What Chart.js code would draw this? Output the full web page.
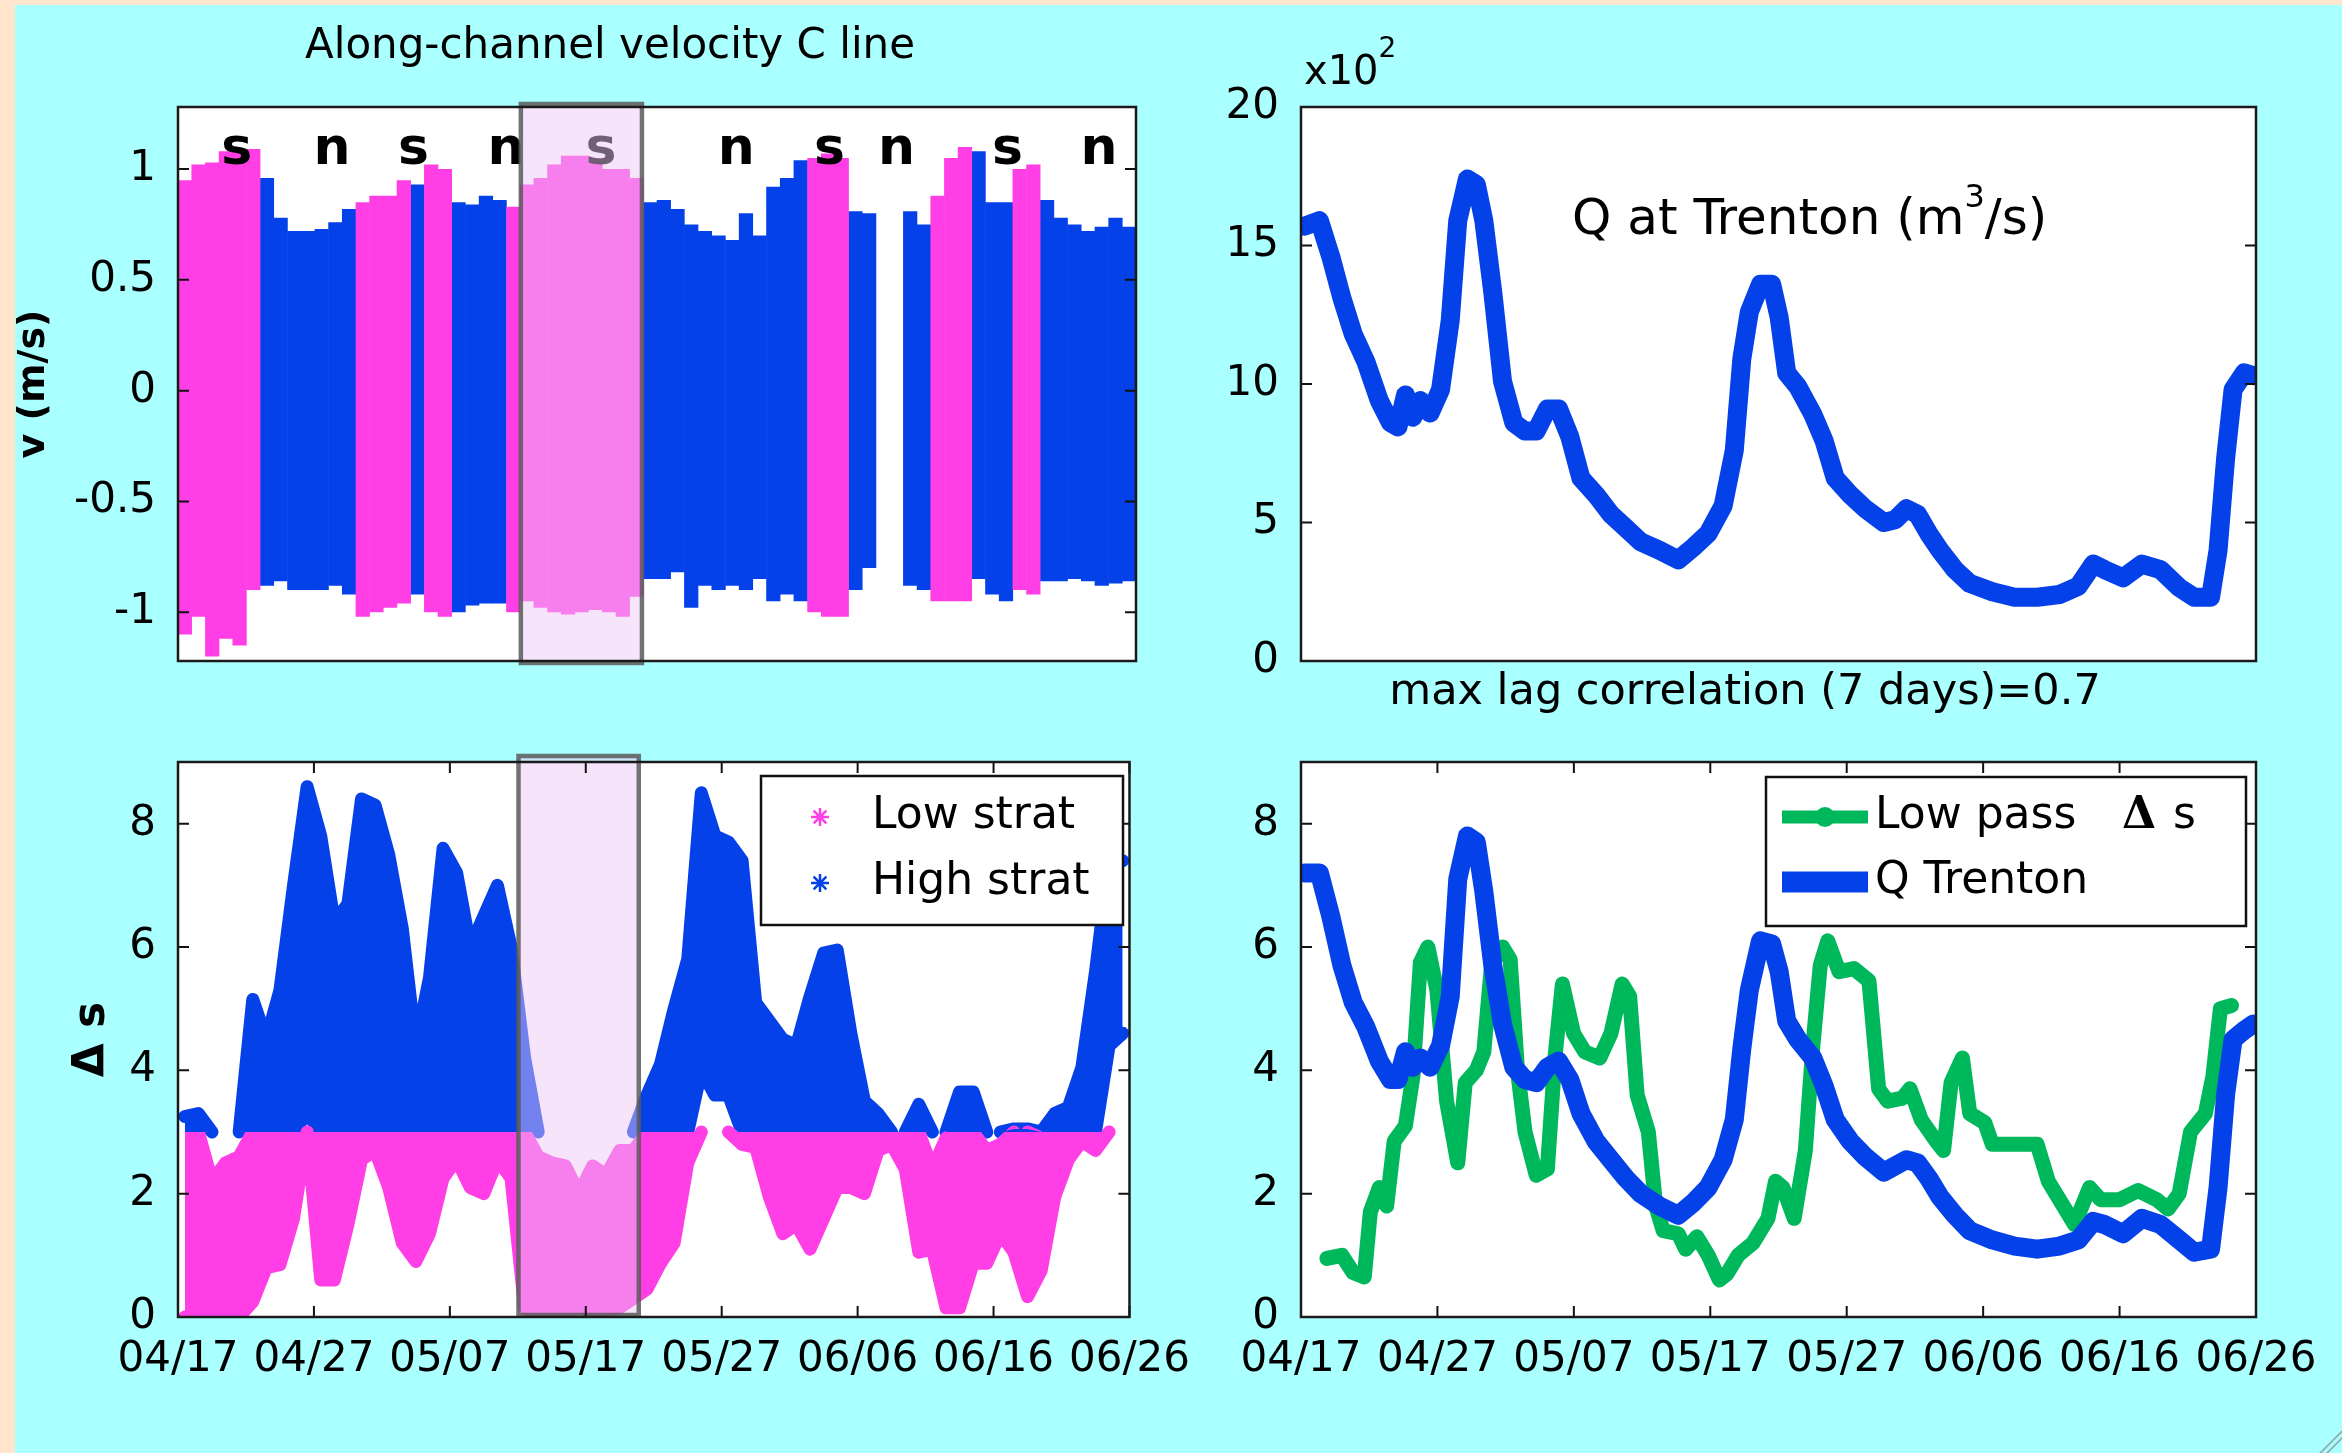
<!DOCTYPE html>
<html>
<head>
<meta charset="utf-8">
<script src="https://cdn.jsdelivr.net/npm/chart.js@4.4.1/dist/chart.umd.min.js"></script>
<style>
  html, body { margin: 0; padding: 0; background: #ffe6cc; }
  body { width: 2342px; height: 1453px; position: relative; overflow: hidden; }
  #page { position: absolute; left: 15px; top: 5px; width: 2327px; height: 1448px; background: #aaffff; }
  canvas { position: absolute; }
  #curl { position: absolute; right: 0; bottom: 0; width: 30px; height: 26px;
          background: linear-gradient(135deg, transparent 58%, #8a9a9a 61%, transparent 65%, transparent 70%, #8a9a9a 73%, transparent 77%); }
</style>
</head>
<body>
<div id="page"></div>
<canvas id="tl" width="1200" height="720" style="left:0;top:0"></canvas>
<canvas id="bl" width="1200" height="733" style="left:0;top:720px"></canvas>
<canvas id="tr" width="1172" height="720" style="left:1170px;top:0"></canvas>
<canvas id="br" width="1172" height="733" style="left:1170px;top:720px"></canvas>
<div id="curl"></div>
<script>
// x values are days counted from 04/17
const tickDays = [0, 10, 20, 30, 40, 50, 60, 70];
const dateLabels = ['04/17', '04/27', '05/07', '05/17', '05/27', '06/06', '06/16', '06/26'];
const shadeDays = [25.05, 33.9];

// top left: daily envelope of along-channel velocity (m/s), s = low strat, n = high strat
const velClass = 'ssssssnnnnnnnssssnssnnnnssssssssssnnnnnnnnnnnnsssnn--nnsssnnnssnnnnnnn'.split('');
const velHi = [0.95, 1.02, 1.03, 1.08, 1.09, 1.09, 0.96, 0.78, 0.72, 0.72,
               0.73, 0.76, 0.82, 0.85, 0.88, 0.88, 0.95, 0.93, 1.02, 1.0,
               0.85, 0.84, 0.88, 0.86, 0.83, 0.93, 0.96, 1.02, 1.06, 1.06,
               1.05, 1.0, 1.0, 0.96, 0.85, 0.86, 0.82, 0.75, 0.72, 0.7,
               0.68, 0.8, 0.7, 0.92, 0.96, 1.04, 1.05, 1.07, 1.05, 0.81,
               0.8, null, null, 0.81, 0.75, 0.88, 1.05, 1.1, 1.08, 0.85,
               0.85, 1.0, 1.02, 0.86, 0.78, 0.75, 0.72, 0.74, 0.78, 0.74];
const velLo = [-1.1, -1.02, -1.2, -1.12, -1.15, -0.9, -0.88, -0.86, -0.9, -0.9,
               -0.9, -0.88, -0.92, -1.02, -1.0, -0.98, -0.96, -0.92, -1.0, -1.02,
               -1.0, -0.97, -0.96, -0.96, -1.0, -0.95, -0.98, -1.0, -1.01, -1.0,
               -0.99, -1.0, -1.02, -0.93, -0.85, -0.85, -0.82, -0.98, -0.88, -0.9,
               -0.88, -0.9, -0.85, -0.95, -0.92, -0.95, -1.0, -1.02, -1.02, -0.9,
               -0.8, null, null, -0.88, -0.9, -0.95, -0.95, -0.95, -0.85, -0.92,
               -0.95, -0.9, -0.92, -0.86, -0.86, -0.85, -0.86, -0.88, -0.87, -0.86];
const velTicks = [-1, -0.5, 0, 0.5, 1];
const springNeap = ['s', 'n', 's', 'n', 's', 'n', 's', 'n', 's', 'n'];
const springNeapDays = [4.3, 11.26, 17.2, 23.96, 30.9, 40.8, 47.6, 52.5, 60.6, 67.3];

// bottom left: daily envelope of delta s
const stratSplit = 3;
const dsHi = [3.25, 3.3, 2.2, 2.5, 2.6, 5.15, 4.5, 5.3, 7.0, 8.6,
              7.8, 6.4, 6.7, 8.4, 8.3, 7.5, 6.3, 4.4, 5.5, 7.6,
              7.2, 6.0, 6.5, 7.0, 6.0, 4.2, 2.6, 2.5, 2.45, 2.0,
              2.45, 2.3, 2.7, 2.7, 3.6, 4.1, 5.0, 5.8, 8.5, 7.8,
              7.7, 7.4, 5.1, 4.8, 4.5, 4.4, 5.2, 5.9, 5.95, 4.6,
              3.5, 3.3, 3.0, 3.0, 3.45, 2.4, 2.9, 3.65, 3.65, 2.7,
              2.8, 3.05, 3.05, 2.9, 3.3, 3.4, 4.05, 5.6, 7.4, 7.4];
const dsLo = [0, 0, 0, 0, 0, 0.25, 0.8, 0.85, 1.6, 3.3,
              0.6, 0.6, 1.5, 2.55, 2.7, 2.1, 1.2, 0.9, 1.35, 2.25,
              2.55, 2.1, 2.0, 2.55, 2.25, 0.15, 0, 0.1, 0, 0.2,
              0, 0.1, 0.15, 0.3, 0.45, 0.87, 1.2, 2.5, 4.0, 3.6,
              3.6, 2.8, 2.75, 1.95, 1.35, 1.5, 1.1, 1.6, 2.1, 2.1,
              2.0, 2.7, 2.8, 2.4, 1.05, 1.1, 0.15, 0.15, 0.87, 0.87,
              1.35, 1.05, 0.33, 0.75, 1.95, 2.55, 2.85, 2.7, 4.4, 4.6];
const dsTicks = [0, 2, 4, 6, 8];

// right panels: river discharge at Trenton
const qDay = [0.26, 1.35, 2.18, 3.0, 3.83, 4.76, 5.74, 6.56, 7.11, 7.66,
              8.2, 8.75, 9.46, 10.23, 10.94, 11.49, 12.2, 12.85, 13.4, 14.06,
              14.77, 15.6, 16.42, 17.24, 18.06, 18.88, 19.7, 20.52, 21.62, 22.71,
              23.81, 24.9, 26.27, 27.65, 28.74, 29.84, 30.94, 31.76, 32.31, 32.86,
              33.68, 34.5, 35.05, 35.6, 36.42, 37.52, 38.34, 39.16, 40.26, 41.35,
              42.72, 43.55, 44.37, 45.19, 46.01, 46.83, 47.93, 49.02, 50.67, 52.31,
              53.96, 55.6, 56.97, 58.07, 58.89, 60.26, 61.63, 63.0, 64.38, 65.47,
              66.67, 67.22, 67.77, 68.32, 69.14, 69.8];
// x10^2 m3/s
const qTrenton = [15.7, 15.9, 14.6, 13.1, 11.8, 10.8, 9.4, 8.6, 8.45, 9.6,
                  8.8, 9.4, 8.95, 9.8, 12.3, 15.9, 17.4, 17.2, 15.9, 13.3,
                  10.1, 8.6, 8.3, 8.3, 9.1, 9.1, 8.1, 6.6, 6.0, 5.3,
                  4.8, 4.3, 4.0, 3.65, 4.1, 4.6, 5.6, 7.6, 10.9, 12.6,
                  13.6, 13.6, 12.4, 10.4, 9.9, 8.9, 7.95, 6.6, 6.0, 5.5,
                  5.0, 5.1, 5.5, 5.3, 4.6, 4.0, 3.3, 2.8, 2.5, 2.3,
                  2.3, 2.4, 2.7, 3.5, 3.3, 3.0, 3.5, 3.3, 2.65, 2.3,
                  2.3, 4.0, 7.3, 9.8, 10.4, 10.3];
const qTicks = [0, 5, 10, 15, 20];
// Q as drawn on the delta s axis (bottom right)
const qScaled = [7.2, 7.2, 6.5, 5.7, 5.1, 4.7, 4.15, 3.85, 3.85, 4.3,
                 4.05, 4.2, 4.05, 4.4, 5.2, 7.1, 7.8, 7.7, 6.9, 5.7,
                 4.75, 4.05, 3.85, 3.8, 4.05, 4.15, 3.85, 3.3, 2.85, 2.55,
                 2.25, 2.0, 1.8, 1.65, 1.85, 2.1, 2.55, 3.2, 4.35, 5.3,
                 6.1, 6.05, 5.6, 4.8, 4.5, 4.2, 3.75, 3.2, 2.85, 2.6,
                 2.35, 2.45, 2.55, 2.5, 2.25, 1.95, 1.65, 1.4, 1.25, 1.15,
                 1.1, 1.15, 1.25, 1.55, 1.5, 1.35, 1.6, 1.5, 1.25, 1.05,
                 1.1, 2.1, 3.6, 4.5, 4.65, 4.75];
// low pass delta s
const lpDay = [1.9, 3.0, 3.82, 4.64, 5.08, 5.74, 6.28, 6.83, 7.65, 8.2,
               8.75, 9.3, 9.96, 10.67, 11.49, 12.04, 12.85, 13.4, 13.96, 14.77,
               15.33, 15.87, 16.42, 17.24, 18.06, 18.61, 19.16, 19.98, 20.8, 21.9,
               22.72, 23.54, 24.09, 24.64, 25.46, 26.0, 26.55, 27.65, 28.2, 29.02,
               29.85, 30.67, 31.22, 32.04, 33.13, 34.23, 34.78, 35.33, 36.15, 36.97,
               37.52, 38.06, 38.61, 39.44, 40.53, 41.63, 42.34, 43.0, 44.09, 44.64,
               45.46, 46.56, 47.1, 47.65, 48.48, 49.02, 50.12, 50.67, 52.31, 53.96,
               54.78, 55.88, 56.7, 57.8, 58.62, 59.99, 61.36, 62.73, 63.55, 64.37,
               65.2, 66.29, 66.84, 67.39, 68.21];
const lpVal = [0.95, 1.0, 0.72, 0.65, 1.7, 2.1, 1.8, 2.85, 3.1, 3.9,
               5.75, 6.0, 5.3, 3.5, 2.5, 3.8, 4.0, 4.3, 5.7, 6.0,
               5.8, 4.0, 3.0, 2.3, 2.4, 4.2, 5.4, 4.6, 4.3, 4.2,
               4.6, 5.4, 5.2, 3.6, 3.0, 1.8, 1.4, 1.35, 1.1, 1.3,
               1.0, 0.6, 0.7, 1.0, 1.2, 1.6, 2.2, 2.1, 1.6, 2.7,
               4.4, 5.7, 6.1, 5.6, 5.65, 5.45, 3.7, 3.5, 3.55, 3.7,
               3.2, 2.85, 2.7, 3.8, 4.2, 3.3, 3.15, 2.8, 2.8, 2.8,
               2.2, 1.8, 1.5, 2.1, 1.9, 1.9, 2.05, 1.9, 1.75, 2.0,
               3.0, 3.3, 3.9, 5.0, 5.05];

const PINK = '#ff3ee6', BLUE = '#0541e8', GREEN = '#00b85c';
const NONE = 'rgba(0,0,0,0)';
const FONT = 'DejaVu Sans';

Chart.defaults.font.family = FONT;
Chart.defaults.color = '#000';

const tlPink = [], tlBlue = [];
velClass.forEach((c, d) => {
  if (c === 's') tlPink.push({x: d + 0.5, y: [velLo[d], velHi[d]]});
  if (c === 'n') tlBlue.push({x: d + 0.5, y: [velLo[d], velHi[d]]});
});
// split each day's envelope at the stratification threshold
const pinkLo = dsLo.map((v, d) => ({x: d + 0.5, y: Math.min(v, stratSplit)}));
const pinkHi = dsHi.map((v, d) => ({x: d + 0.5, y: Math.min(v, stratSplit)}));
const blueLo = dsLo.map((v, d) => ({x: d + 0.5, y: Math.max(v, stratSplit)}));
const blueHi = dsHi.map((v, d) => ({x: d + 0.5, y: Math.max(v, stratSplit)}));

function font(size, weight, family) {
  return (weight || 'normal') + ' ' + size + 'px "' + (family || FONT) + '"';
}

function drawParts(ctx, item) {
  let w = 0;
  item.parts.forEach(p => { ctx.font = font(p.size, p.weight, p.family); w += ctx.measureText(p.t).width; });
  let cx = item.align === 'center' ? item.x - w / 2 : item.x;
  ctx.textAlign = 'left';
  ctx.textBaseline = 'middle';
  ctx.fillStyle = '#000';
  item.parts.forEach(p => {
    ctx.font = font(p.size, p.weight, p.family);
    if (typeof p.at === 'number') cx = p.at;
    ctx.fillText(p.t, cx, item.y + (p.dy || 0));
    cx += ctx.measureText(p.t).width;
  });
}

function star(ctx, x, y, r, color) {
  ctx.strokeStyle = color;
  ctx.lineWidth = 2.5;
  ctx.beginPath();
  for (let k = 0; k < 4; k++) {
    const a = k * Math.PI / 4;
    ctx.moveTo(x - r * Math.cos(a), y - r * Math.sin(a));
    ctx.lineTo(x + r * Math.cos(a), y + r * Math.sin(a));
  }
  ctx.stroke();
}

// per panel decorations, looked up by canvas id
const extras = {
  tl: {
    yTicks: true,
    letters: {text: springNeap, days: springNeapDays, level: 1.085},
    shade: shadeDays, shadeOut: [3, 2],
    texts: [{x: 610, y: 47, align: 'center', parts: [{t: 'Along-channel velocity C line', size: 42}]}]
  },
  bl: {
    xTicks: true, yTicks: true,
    shade: shadeDays, shadeOut: [6, -2],
    legend: {
      box: [761, 56, 1123, 205], sym: [820], textX: 872,
      items: [{ds: 1, kind: 'star', y: 97}, {ds: 3, kind: 'star', y: 163}]
    }
  },
  tr: {
    yTicks: true,
    texts: [
      {x: 134, y: 74, parts: [{t: 'x10', size: 40}, {t: '2', size: 28, dy: -24}]},
      {x: 402, y: 221, parts: [{t: 'Q at Trenton (m', size: 50}, {t: '3', size: 32, dy: -22}, {t: '/s)', size: 50}]},
      {x: 575, y: 693, align: 'center', parts: [{t: 'max lag correlation (7 days)=0.7', size: 43}]}
    ]
  },
  br: {
    xTicks: true, yTicks: true,
    legend: {
      box: [596, 57, 1076, 206], sym: [612, 698], textX: 705,
      items: [
        {ds: 0, kind: 'line', lw: 13, dot: true, y: 97,
         parts: [{t: 'Low pass', size: 44}, {t: 'Δ', size: 44, weight: 'bold', family: 'DejaVu Serif', at: 952}, {t: 's', size: 44, at: 1003}]},
        {ds: 1, kind: 'line', lw: 21, y: 162}
      ]
    }
  }
};

const frame = {
  id: 'frame',
  beforeDraw(chart) {
    const {ctx, chartArea: a} = chart;
    ctx.save();
    ctx.fillStyle = '#fff';
    ctx.fillRect(a.left, a.top, a.right - a.left, a.bottom - a.top);
    ctx.restore();
  },
  afterDatasetsDraw(chart) {
    const o = extras[chart.canvas.id];
    const {ctx, chartArea: a, scales: {x, y}} = chart;
    ctx.save();
    if (o.letters) {
      ctx.font = font(52, 'bold');
      ctx.fillStyle = '#000';
      ctx.textAlign = 'center';
      ctx.textBaseline = 'middle';
      o.letters.text.forEach((t, i) =>
        ctx.fillText(t, x.getPixelForValue(o.letters.days[i]), y.getPixelForValue(o.letters.level)));
    }
    if (o.shade) {
      const x0 = x.getPixelForValue(o.shade[0]), x1 = x.getPixelForValue(o.shade[1]);
      const t = a.top - o.shadeOut[0], b = a.bottom + o.shadeOut[1];
      ctx.fillStyle = 'rgba(236,198,244,0.48)';
      ctx.fillRect(x0, t, x1 - x0, b - t);
      ctx.strokeStyle = 'rgba(90,90,90,0.85)';
      ctx.lineWidth = 4.5;
      ctx.strokeRect(x0, t, x1 - x0, b - t);
    }
    ctx.strokeStyle = '#111';
    ctx.lineWidth = 2;
    ctx.beginPath();
    if (o.xTicks) x.ticks.forEach(tk => {
      const px = x.getPixelForValue(tk.value);
      ctx.moveTo(px, a.bottom); ctx.lineTo(px, a.bottom - 11);
      ctx.moveTo(px, a.top); ctx.lineTo(px, a.top + 11);
    });
    if (o.yTicks) y.ticks.forEach(tk => {
      const py = y.getPixelForValue(tk.value);
      ctx.moveTo(a.left, py); ctx.lineTo(a.left + 11, py);
      ctx.moveTo(a.right, py); ctx.lineTo(a.right - 11, py);
    });
    ctx.stroke();
    ctx.lineWidth = 2.5;
    ctx.strokeStyle = '#1a1a1a';
    ctx.strokeRect(a.left, a.top, a.right - a.left, a.bottom - a.top);

    if (o.legend) {
      const L = o.legend;
      ctx.fillStyle = '#fff';
      ctx.fillRect(L.box[0], L.box[1], L.box[2] - L.box[0], L.box[3] - L.box[1]);
      ctx.strokeStyle = '#111';
      ctx.lineWidth = 2.5;
      ctx.strokeRect(L.box[0], L.box[1], L.box[2] - L.box[0], L.box[3] - L.box[1]);
      L.items.forEach(it => {
        const ds = chart.data.datasets[it.ds];
        const col = ds.legendColor;
        if (it.kind === 'star') star(ctx, L.sym[0], it.y, 9, col);
        else {
          ctx.strokeStyle = col;
          ctx.lineWidth = it.lw;
          ctx.beginPath();
          ctx.moveTo(L.sym[0], it.y); ctx.lineTo(L.sym[1], it.y);
          ctx.stroke();
          if (it.dot) {
            ctx.fillStyle = col;
            ctx.beginPath();
            ctx.arc((L.sym[0] + L.sym[1]) / 2, it.y, 10, 0, Math.PI * 2);
            ctx.fill();
          }
        }
        drawParts(ctx, {x: L.textX, y: it.y, parts: it.parts || [{t: ds.label, size: 44}]});
      });
    }
    (o.texts || []).forEach(tx => drawParts(ctx, tx));
    ctx.restore();
  }
};

function xAxis(showLabels) {
  return {
    type: 'linear', min: 0, max: 70, offset: false, display: true,
    grid: {display: false}, border: {display: false},
    afterBuildTicks: s => { s.ticks = tickDays.map(v => ({value: v})); },
    afterFit: s => { s.height = showLabels ? 136 : 59; },
    ticks: {
      display: showLabels, padding: 10, maxRotation: 0, autoSkip: false,
      font: {size: 42},
      callback: v => dateLabels[tickDays.indexOf(v)]
    }
  };
}

function yAxis(min, max, ticks, width, title) {
  return {
    type: 'linear', min: min, max: max,
    grid: {display: false}, border: {display: false},
    afterBuildTicks: s => { s.ticks = ticks.map(v => ({value: v})); },
    afterFit: s => { s.width = width; },
    ticks: {padding: 14, font: {size: 42}, callback: v => String(v)},
    title: title || {display: false}
  };
}

function base(padRight, padTop) {
  return {
    responsive: false, animation: false, devicePixelRatio: 1,
    layout: {padding: {left: 0, right: padRight, top: padTop, bottom: 0}},
  };
}

const barStyle = {borderWidth: 0, grouped: false, barPercentage: 1.04, categoryPercentage: 1};
const noTips = {legend: {display: false}, tooltip: {enabled: false}};

// top left
new Chart(document.getElementById('tl'), {
  type: 'bar',
  data: {datasets: [
    Object.assign({label: 'Low strat', data: tlPink, backgroundColor: PINK}, barStyle),
    Object.assign({label: 'High strat', data: tlBlue, backgroundColor: BLUE}, barStyle)
  ]},
  options: Object.assign(base(64, 107), {
    scales: {
      x: xAxis(false),
      y: yAxis(-1.22, 1.28, velTicks, 178, {display: true, text: 'v (m/s)', font: {size: 38, weight: 'bold'}, padding: {top: 11, bottom: 0}})
    },
    plugins: noTips
  }),
  plugins: [frame]
});

// bottom left: filled envelopes, plus edge lines that mimic the size of the star markers
const area = {pointRadius: 0, borderWidth: 0, tension: 0};
const edge = (data, color, keep) => ({
  label: 'edge', data: data, fill: false,
  pointRadius: 0, borderWidth: 13, tension: 0, clip: 0,
  borderCapStyle: 'round', borderJoinStyle: 'round', borderColor: color,
  segment: {borderColor: c => keep(c.p0.parsed.y, c.p1.parsed.y) ? color : NONE}
});
const belowSplit = (a, b) => a < stratSplit || b < stratSplit;
const aboveSplit = (a, b) => a > stratSplit || b > stratSplit;
new Chart(document.getElementById('bl'), {
  type: 'line',
  data: {datasets: [
    Object.assign({label: 'low edge', data: pinkLo, fill: false}, area),
    Object.assign({label: 'Low strat', data: pinkHi, fill: '-1', backgroundColor: PINK, legendColor: PINK}, area),
    Object.assign({label: 'high edge', data: blueLo, fill: false}, area),
    Object.assign({label: 'High strat', data: blueHi, fill: '-1', backgroundColor: BLUE, legendColor: BLUE}, area),
    edge(pinkLo, PINK, belowSplit),
    edge(pinkHi, PINK, belowSplit),
    edge(blueLo, BLUE, aboveSplit),
    edge(blueHi, BLUE, aboveSplit)
  ]},
  options: Object.assign(base(65, 42), {
    scales: {
      x: xAxis(true),
      y: yAxis(0, 9, dsTicks, 178, {display: true, text: 'Δ s', font: {size: 44, weight: 'bold'}, padding: {top: 66, bottom: 0}})
    },
    plugins: noTips
  }),
  plugins: [frame]
});

// top right
new Chart(document.getElementById('tr'), {
  type: 'line',
  data: {datasets: [{
    label: 'Q Trenton', data: qDay.map((d, i) => ({x: d, y: qTrenton[i]})),
    borderColor: BLUE, borderWidth: 19, pointRadius: 0, tension: 0,
    borderCapStyle: 'round', borderJoinStyle: 'round'
  }]},
  options: Object.assign(base(86, 107), {
    scales: {x: xAxis(false), y: yAxis(0, 20, qTicks, 131)},
    plugins: noTips
  }),
  plugins: [frame]
});

// bottom right
new Chart(document.getElementById('br'), {
  type: 'line',
  data: {datasets: [
    {label: 'Low pass Δ s', data: lpDay.map((d, i) => ({x: d, y: lpVal[i]})), order: 1,
     borderColor: GREEN, legendColor: GREEN, borderWidth: 15, pointRadius: 0, tension: 0,
     borderCapStyle: 'round', borderJoinStyle: 'round'},
    {label: 'Q Trenton', data: qDay.map((d, i) => ({x: d, y: qScaled[i]})), order: 0,
     borderColor: BLUE, legendColor: BLUE, borderWidth: 19, pointRadius: 0, tension: 0,
     borderCapStyle: 'round', borderJoinStyle: 'round'}
  ]},
  options: Object.assign(base(86, 42), {
    scales: {x: xAxis(true), y: yAxis(0, 9, dsTicks, 131)},
    plugins: noTips
  }),
  plugins: [frame]
});
</script>
</body>
</html>
